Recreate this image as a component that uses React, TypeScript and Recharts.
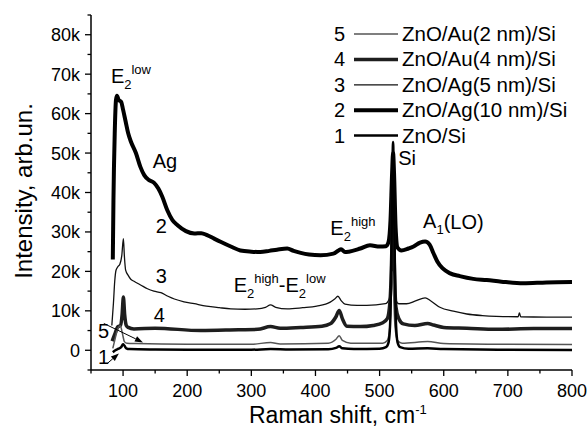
import React from 'react';
import { LineChart, Line, XAxis, YAxis, ReferenceDot, ReferenceLine, Legend, Label } from 'recharts';

type Pt = [number, number];

const FONT = '"Liberation Sans", Arial, sans-serif';

// axis ticks (majors every 100 cm-1 / 10k, minors in between)
const xTicks = [50, 100, 150, 200, 250, 300, 350, 400, 450, 500, 550, 600, 650, 700, 750, 800];
const yTicks = [-5000, 0, 5000, 10000, 15000, 20000, 25000, 30000, 35000, 40000, 45000, 50000, 55000, 60000, 65000, 70000, 75000, 80000, 85000];

// 1 - ZnO/Si
const znoSi: Pt[] = [
  [84, -500], [88, 0], [93, 400], [97, 800], [100, 1500], [102, 1200], [105, 500], [110, 300],
  [150, 200], [200, 150], [300, 150], [330, 300], [360, 200], [420, 250], [432, 600], [437, 1000],
  [442, 500], [460, 300], [500, 400], [510, 800], [514, 2000], [517, 9000], [519, 32000], [521, 52800],
  [523, 32000], [525, 9000], [528, 2000], [532, 800], [545, 400], [575, 500], [600, 300], [700, 150], [800, 100],
];

// 2 - ZnO/Ag(10 nm)/Si
const znoAg10: Pt[] = [
  [84, 23000], [85, 38000], [87, 55000], [89, 63500], [90.5, 64500], [93, 63500], [97, 63000], [100, 61000],
  [104, 58000], [108, 55000], [112, 53000], [120, 50000], [127, 46500], [133, 44400], [140, 43200], [148, 42500],
  [155, 41000], [161, 39000], [169, 35500], [177, 33000], [185, 31700], [198, 30200], [211, 29600], [222, 29700],
  [231, 29200], [242, 28300], [252, 27500], [268, 26300], [283, 25300], [300, 25000], [314, 24900], [328, 25200],
  [340, 25500], [356, 25800], [366, 25200], [377, 24700], [390, 24300], [408, 24100], [428, 24500], [436, 25300],
  [440, 25600], [446, 24900], [452, 25000], [470, 25800], [485, 26600], [500, 26300], [510, 26400], [514, 27500],
  [517, 33000], [519.5, 45000], [521, 50000], [522.5, 45000], [525, 31000], [528, 26000], [534, 25300], [545, 25800],
  [553, 26300], [563, 27300], [571, 27600], [578, 26800], [584, 24600], [590, 22500], [598, 20800], [610, 19500],
  [625, 18800], [646, 18100], [667, 17800], [690, 17400], [724, 17000], [760, 17200], [800, 17300],
];

// 3 - ZnO/Ag(5 nm)/Si
const znoAg5: Pt[] = [
  [82.5, 6300], [85, 12000], [87, 17500], [89, 20300], [92, 21200], [95, 21800], [98, 24000], [100.5, 28300],
  [102, 24000], [104, 20300], [108, 19000], [112, 18000], [117, 17500], [128, 16500], [138, 15600], [148, 15000],
  [159, 14600], [170, 13700], [180, 13000], [195, 12300], [211, 11800], [230, 11200], [250, 10800], [268, 10500],
  [290, 10400], [309, 10500], [322, 10900], [330, 11500], [338, 10900], [356, 10500], [380, 10800], [402, 11200],
  [423, 12200], [430, 13000], [435, 13700], [440, 12600], [446, 11700], [465, 11400], [480, 11400], [509, 11800],
  [515, 13000], [518, 18000], [520.5, 30000], [523, 18000], [526, 12500], [530, 11800], [542, 11800], [556, 12500],
  [571, 13300], [580, 12500], [594, 10900], [615, 9900], [636, 9200], [660, 8800], [682, 8600], [716, 8500],
  [718, 9500], [720, 8500], [760, 8400], [800, 8400],
];

// 4 - ZnO/Au(4 nm)/Si
const znoAu4: Pt[] = [
  [83, 2300], [85, 3200], [88, 4500], [91.5, 5900], [96, 6300], [98.5, 9000], [100.5, 13500], [102.5, 9000],
  [105, 6300], [108, 5800], [117, 5400], [150, 5600], [221, 5000], [280, 5200], [310, 5300], [330, 6000],
  [345, 5600], [377, 5800], [410, 6100], [423, 6700], [432, 8500], [437, 10100], [442, 8000], [449, 6100],
  [470, 6000], [490, 6300], [505, 7000], [512, 8000], [516, 12000], [519, 25000], [520.8, 43000], [522.5, 25000],
  [525.5, 11000], [530, 8000], [537, 6700], [555, 6300], [575, 6800], [584, 6400], [600, 5800], [636, 5600],
  [682, 5300], [740, 5500], [800, 5500],
];

// 5 - ZnO/Au(2 nm)/Si
const znoAu2: Pt[] = [
  [84, 500], [87, 2500], [90, 4500], [93, 5800], [96, 6200], [98, 5000], [100, 3500], [102, 2200],
  [106, 1800], [120, 1700], [200, 1500], [300, 1500], [330, 2000], [345, 1600], [420, 1800], [432, 2800],
  [437, 3700], [442, 2500], [455, 1800], [505, 1800], [512, 2500], [516, 6000], [520, 20000], [524, 6000],
  [528, 2500], [535, 1800], [575, 2200], [600, 1700], [700, 1500], [800, 1450],
];

const seriesNames: Record<number, string> = {
  1: 'ZnO/Si',
  2: 'ZnO/Ag(10 nm)/Si',
  3: 'ZnO/Ag(5 nm)/Si',
  4: 'ZnO/Au(4 nm)/Si',
  5: 'ZnO/Au(2 nm)/Si',
};
const seriesPoints: Record<number, Pt[]> = { 1: znoSi, 2: znoAg10, 3: znoAg5, 4: znoAu4, 5: znoAu2 };

const lineStyle: Record<number, { stroke: string; width: number }> = {
  1: { stroke: '#000', width: 2.5 },
  2: { stroke: '#000', width: 4 },
  3: { stroke: '#111', width: 1.3 },
  4: { stroke: '#1e1e1e', width: 3.5 },
  5: { stroke: '#555', width: 1.5 },
};

const drawOrder = [2, 3, 4, 5, 1];
const legendOrder = [5, 4, 3, 2, 1];

const toRows = (pts: Pt[]) => pts.map(([x, y]) => ({ x, y }));

const BottomTick = (props: any) => {
  const { x, y, payload } = props;
  const major = payload.value % 100 === 0;
  return (
    <g>
      <line x1={x} x2={x} y1={y} y2={y + (major ? 6 : 3.5)} stroke="#000" strokeWidth={1.3} />
      {major && (
        <text x={x} y={y + 27} textAnchor="middle" fontSize={18} fontFamily={FONT} fill="#000">
          {payload.value}
        </text>
      )}
    </g>
  );
};

const TopTick = (props: any) => {
  const { x, y, payload } = props;
  const major = payload.value % 100 === 0;
  return <line x1={x} x2={x} y1={y} y2={y + (major ? 6 : 3.5)} stroke="#000" strokeWidth={1.3} />;
};

const LeftTick = (props: any) => {
  const { x, y, payload } = props;
  const v = payload.value;
  const major = v % 10000 === 0 && v >= 0 && v <= 80000;
  return (
    <g>
      <line x1={x - (major ? 6 : 3.5)} x2={x} y1={y} y2={y} stroke="#000" strokeWidth={1.3} />
      {major && (
        <text x={x - 11} y={y + 6.5} textAnchor="end" fontSize={18} fontFamily={FONT} fill="#000">
          {v === 0 ? '0' : `${v / 1000}k`}
        </text>
      )}
    </g>
  );
};

const RightTick = (props: any) => {
  const { x, y, payload } = props;
  const major = payload.value % 10000 === 0;
  return <line x1={x - (major ? 6 : 3.5)} x2={x} y1={y} y2={y} stroke="#000" strokeWidth={1.3} />;
};

// peak label: main letter, optional subscript and superscript
const PeakText = ({ x, y, main, sub, sup, tail }: any) => (
  <text x={x} y={y} fontSize={20} fontFamily={FONT} fill="#000">
    {main}
    {sub && <tspan fontSize={13} dy={6}>{sub}</tspan>}
    {sup && <tspan fontSize={13} dy={-15}>{sup}</tspan>}
    {tail && <tspan fontSize={20} dy={sup ? 9 : -5}>{tail}</tspan>}
  </text>
);

const Arrow = (props: any) => {
  const { x1, y1, x2, y2 } = props;
  if ([x1, y1, x2, y2].some((v) => typeof v !== 'number')) return null;
  const a = Math.atan2(y2 - y1, x2 - x1);
  const L = 8;
  const W = 3;
  const bx = x2 - L * Math.cos(a);
  const by = y2 - L * Math.sin(a);
  const px = -Math.sin(a) * W;
  const py = Math.cos(a) * W;
  return (
    <g>
      <line x1={x1} y1={y1} x2={bx} y2={by} stroke="#000" strokeWidth={1} />
      <polygon points={`${x2},${y2} ${bx + px},${by + py} ${bx - px},${by - py}`} fill="#000" />
    </g>
  );
};

const LegendBox = () => (
  <svg width={250} height={130} style={{ display: 'block', overflow: 'visible' }}>
    {legendOrder.map((num, i) => {
      const cy = 14 + i * 25.4;
      const st = lineStyle[num];
      return (
        <g key={num}>
          <text x={15} y={cy + 7} textAnchor="end" fontSize={20} fontFamily={FONT} fill="#000">{num}</text>
          <line x1={24} x2={68} y1={cy} y2={cy} stroke={st.stroke} strokeWidth={num === 3 || num === 5 ? 1.3 : st.width} />
          <text x={72} y={cy + 7} fontSize={20.5} fontFamily={FONT} fill="#000">{seriesNames[num]}</text>
        </g>
      );
    })}
  </svg>
);

const dot = (x: number, y: number, content: React.ReactNode, key: string) => (
  <ReferenceDot
    key={key}
    x={x}
    y={y}
    r={0}
    xAxisId="b"
    yAxisId="l"
    ifOverflow="visible"
    shape={(p: any) => <g transform={`translate(${p.cx},${p.cy})`}>{content}</g>}
  />
);

export default function App() {
  return (
    <div style={{ position: 'absolute', left: 0, top: 0, width: 588, height: 428, background: '#fff' }}>
      <LineChart width={588} height={428} margin={{ top: 15, right: 16, bottom: 0, left: 0 }}>
        <XAxis
          xAxisId="b"
          type="number"
          dataKey="x"
          domain={[50, 800]}
          ticks={xTicks}
          interval={0}
          allowDataOverflow
          height={58}
          tickLine={false}
          tickSize={0}
          tickMargin={0}
          tick={BottomTick}
          axisLine={{ stroke: '#000', strokeWidth: 1.5 }}
        >
          <Label
            content={(p: any) => {
              const vb = p.viewBox || { x: 91, y: 370 };
              return (
                <text x={vb.x + 158} y={vb.y + 53} fontSize={23} fontFamily={FONT} fill="#000">
                  Raman shift, cm<tspan fontSize={13} dy={-9}>-1</tspan>
                </text>
              );
            }}
          />
        </XAxis>
        <XAxis
          xAxisId="t"
          orientation="top"
          type="number"
          dataKey="x"
          domain={[50, 800]}
          ticks={xTicks}
          interval={0}
          allowDataOverflow
          height={0}
          tickLine={false}
          tickSize={0}
          tickMargin={0}
          tick={TopTick}
          axisLine={{ stroke: '#000', strokeWidth: 1.5 }}
        />
        <YAxis
          yAxisId="l"
          type="number"
          domain={[-5000, 85000]}
          ticks={yTicks}
          interval={0}
          allowDataOverflow
          width={91}
          tickLine={false}
          tickSize={0}
          tickMargin={0}
          tick={LeftTick}
          axisLine={{ stroke: '#000', strokeWidth: 1.5 }}
        >
          <Label
            content={(p: any) => {
              const vb = p.viewBox || { x: 0, y: 15, height: 355 };
              const cx = vb.x + 32;
              const cy = 191;
              return (
                <text x={cx} y={cy} transform={`rotate(-90 ${cx} ${cy})`} textAnchor="middle" fontSize={24} fontFamily={FONT} fill="#000">
                  Intensity, arb.un.
                </text>
              );
            }}
          />
        </YAxis>
        <YAxis
          yAxisId="r"
          orientation="right"
          type="number"
          domain={[-5000, 85000]}
          ticks={yTicks}
          interval={0}
          allowDataOverflow
          width={0}
          tickLine={false}
          tickSize={0}
          tickMargin={0}
          tick={RightTick}
          axisLine={{ stroke: '#000', strokeWidth: 1.5 }}
        />

        {drawOrder.map((num) => (
          <Line
            key={num}
            name={seriesNames[num]}
            data={toRows(seriesPoints[num])}
            dataKey="y"
            xAxisId="b"
            yAxisId="l"
            type="monotone"
            dot={false}
            activeDot={false}
            stroke={lineStyle[num].stroke}
            strokeWidth={lineStyle[num].width}
            strokeLinejoin="round"
            isAnimationActive={false}
          />
        ))}

        <ReferenceLine
          xAxisId="b"
          yAxisId="l"
          ifOverflow="visible"
          segment={[{ x: 70, y: 6800 }, { x: 131, y: 2000 }]}
          shape={Arrow}
        />
        <ReferenceLine
          xAxisId="b"
          yAxisId="l"
          ifOverflow="visible"
          segment={[{ x: 75, y: -3400 }, { x: 93.5, y: -800 }]}
          shape={Arrow}
        />

        {dot(81, 67800, <PeakText x={0} y={0} main="E" sub="2" sup="low" />, 'e2low')}
        {dot(146.3, 46200, <PeakText x={0} y={0} main="Ag" />, 'ag')}
        {dot(151, 29700, <PeakText x={0} y={0} main="2" />, 'n2')}
        {dot(151, 17000, <PeakText x={0} y={0} main="3" />, 'n3')}
        {dot(148, 7100, <PeakText x={0} y={0} main="4" />, 'n4')}
        {dot(60.8, 3200, <PeakText x={0} y={0} main="5" />, 'n5')}
        {dot(60.8, -3400, <PeakText x={0} y={0} main="1" />, 'n1')}
        {dot(
          272.4,
          14700,
          <text x={0} y={0} fontSize={20} fontFamily={FONT} fill="#000">
            E<tspan fontSize={13} dy={6}>2</tspan>
            <tspan fontSize={13} dy={-15}>high</tspan>
            <tspan fontSize={20} dy={9}>-E</tspan>
            <tspan fontSize={13} dy={6}>2</tspan>
            <tspan fontSize={13} dy={-15}>low</tspan>
          </text>,
          'e2diff'
        )}
        {dot(423.2, 29200, <PeakText x={0} y={0} main="E" sub="2" sup="high" />, 'e2high')}
        {dot(567.8, 30900, <PeakText x={0} y={0} main="A" sub="1" tail="(LO)" />, 'a1')}
        {dot(528.9, 46900, <PeakText x={0} y={0} main="Si" />, 'si')}

        <Legend
          layout="vertical"
          align="center"
          verticalAlign="middle"
          content={LegendBox}
          wrapperStyle={{ left: 330, top: 20, width: 250, height: 130 }}
        />
      </LineChart>
    </div>
  );
}
